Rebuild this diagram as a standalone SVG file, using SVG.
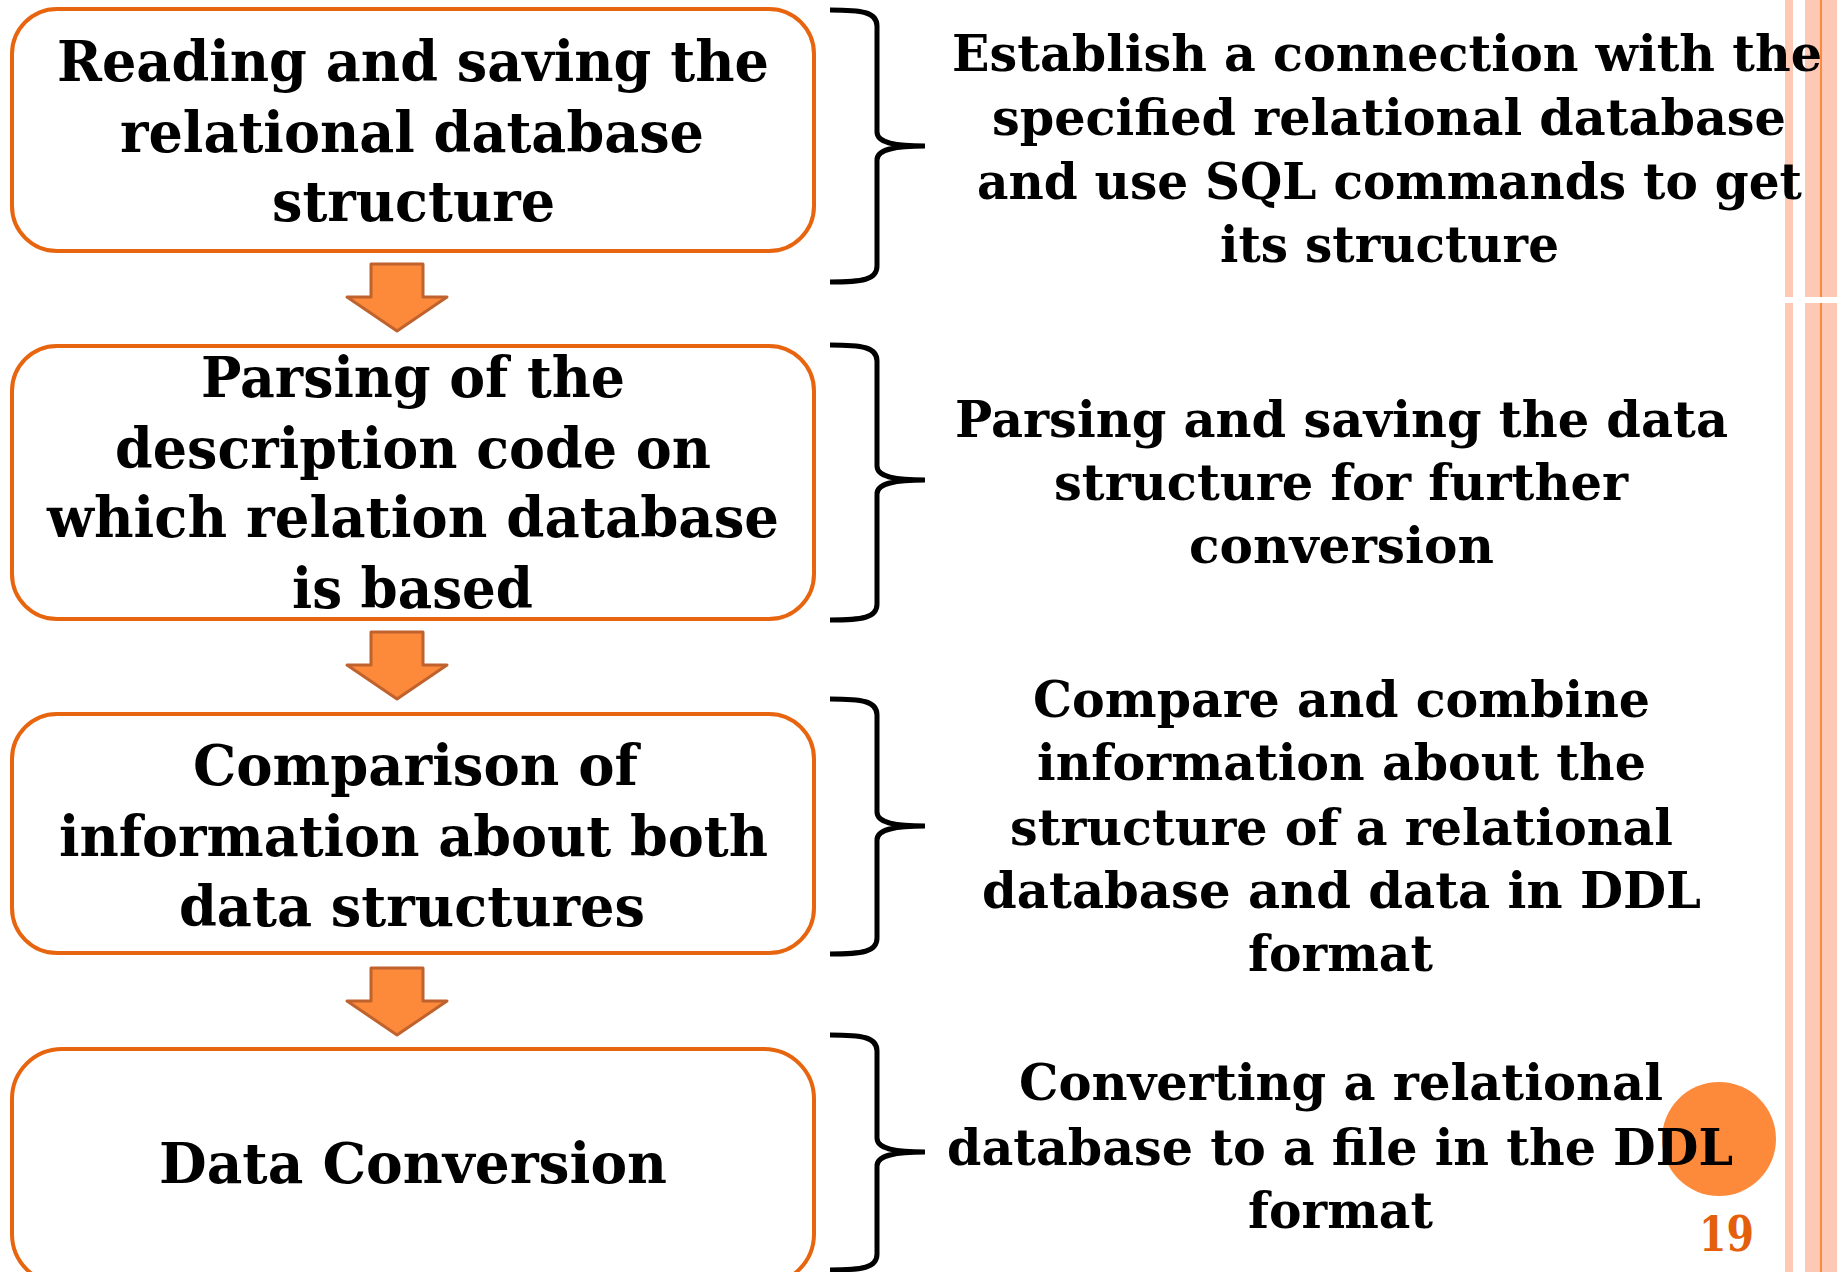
<svg xmlns="http://www.w3.org/2000/svg" width="1837" height="1272" viewBox="0 0 1837 1272">
<style>
.box{fill:#fff;stroke:#e8650f;stroke-width:4}
.arr{fill:#fd8a3a;stroke:#c0622d;stroke-width:3;stroke-linejoin:round}
.brace{fill:none;stroke:#000;stroke-width:5}
.t{font-family:"DejaVu Serif","Liberation Serif",serif;font-weight:bold;font-size:56px;fill:#000}
.r{font-family:"DejaVu Serif","Liberation Serif",serif;font-weight:bold;font-size:51px;fill:#000}
</style>
<rect width="1837" height="1272" fill="#fff"/>
<g id="stripes">
<rect x="1785" y="0" width="8" height="1272" fill="#fdc8b4"/>
<rect x="1805" y="0" width="32" height="1272" fill="#fdc8b4"/>
<rect x="1820" y="0" width="2" height="1272" fill="#fd8a3a"/>
<rect x="1785" y="297" width="52" height="6" fill="#fff"/>
</g>
<g id="connectors">
<path class="arr" d="M371,264 H423 V297 H447 L397,331 L347,297 H371 Z"/>
<path class="arr" d="M371,632 H423 V665 H447 L397,699 L347,665 H371 Z"/>
<path class="arr" d="M371,968 H423 V1001 H447 L397,1035 L347,1001 H371 Z"/>
<path class="brace" d="M830,10 C862,10 877,12 877,26 L877,132 C877,142 892,146 925,146 C892,146 877,150 877,160 L877,266 C877,280 862,282 830,282"/>
<path class="brace" d="M830,345 C862,345 877,347 877,361 L877,466 C877,476 892,480 925,480 C892,480 877,484 877,494 L877,604 C877,618 862,620 830,620"/>
<path class="brace" d="M830,699 C862,699 877,701 877,715 L877,812 C877,822 892,826 925,826 C892,826 877,830 877,840 L877,938 C877,952 862,954 830,954"/>
<path class="brace" d="M830,1035 C862,1035 877,1037 877,1051 L877,1138 C877,1148 892,1152 925,1152 C892,1152 877,1156 877,1166 L877,1254 C877,1268 862,1270 830,1270"/>
</g>
<g id="node1">
<rect class="box" x="12" y="9" width="802" height="242" rx="45"/>
<text class="t" x="57" y="81" textLength="712" lengthAdjust="spacingAndGlyphs">Reading and saving the</text>
<text class="t" x="120" y="152" textLength="584" lengthAdjust="spacingAndGlyphs">relational database</text>
<text class="t" x="272" y="221" textLength="283" lengthAdjust="spacingAndGlyphs">structure</text>
</g>
<g id="node2">
<rect class="box" x="12" y="346" width="802" height="273" rx="45"/>
<text class="t" x="201" y="397" textLength="424" lengthAdjust="spacingAndGlyphs">Parsing of the</text>
<text class="t" x="115" y="468" textLength="596" lengthAdjust="spacingAndGlyphs">description code on</text>
<text class="t" x="47" y="537" textLength="732" lengthAdjust="spacingAndGlyphs">which relation database</text>
<text class="t" x="292" y="608" textLength="241" lengthAdjust="spacingAndGlyphs">is based</text>
</g>
<g id="node3">
<rect class="box" x="12" y="714" width="802" height="239" rx="45"/>
<text class="t" x="193" y="785" textLength="445" lengthAdjust="spacingAndGlyphs">Comparison of</text>
<text class="t" x="59" y="856" textLength="709" lengthAdjust="spacingAndGlyphs">information about both</text>
<text class="t" x="179" y="926" textLength="466" lengthAdjust="spacingAndGlyphs">data structures</text>
</g>
<g id="node4">
<rect class="box" x="12" y="1049" width="802" height="235" rx="50"/>
<text class="t" x="159" y="1183" textLength="508" lengthAdjust="spacingAndGlyphs">Data Conversion</text>
</g>
<g id="page">
<circle cx="1719" cy="1139" r="57" fill="#fd8a3b"/>
<text x="1699" y="1251" font-family="DejaVu Serif, serif" font-weight="bold" font-size="48" fill="#e35f0c" textLength="55" lengthAdjust="spacingAndGlyphs">19</text>
</g>
<g id="desc1">
<text class="r" x="952" y="71" textLength="870" lengthAdjust="spacingAndGlyphs">Establish a connection with the</text>
<text class="r" x="992" y="135" textLength="794" lengthAdjust="spacingAndGlyphs">specified relational database</text>
<text class="r" x="977" y="199" textLength="825" lengthAdjust="spacingAndGlyphs">and use SQL commands to get</text>
<text class="r" x="1220" y="262" textLength="339" lengthAdjust="spacingAndGlyphs">its structure</text>
</g>
<g id="desc2">
<text class="r" x="955" y="437" textLength="773" lengthAdjust="spacingAndGlyphs">Parsing and saving the data</text>
<text class="r" x="1054" y="500" textLength="574" lengthAdjust="spacingAndGlyphs">structure for further</text>
<text class="r" x="1189" y="563" textLength="305" lengthAdjust="spacingAndGlyphs">conversion</text>
</g>
<g id="desc3">
<text class="r" x="1033" y="717" textLength="617" lengthAdjust="spacingAndGlyphs">Compare and combine</text>
<text class="r" x="1037" y="780" textLength="609" lengthAdjust="spacingAndGlyphs">information about the</text>
<text class="r" x="1010" y="845" textLength="663" lengthAdjust="spacingAndGlyphs">structure of a relational</text>
<text class="r" x="982" y="908" textLength="719" lengthAdjust="spacingAndGlyphs">database and data in DDL</text>
<text class="r" x="1248" y="971" textLength="185" lengthAdjust="spacingAndGlyphs">format</text>
</g>
<g id="desc4">
<text class="r" x="1019" y="1100" textLength="644" lengthAdjust="spacingAndGlyphs">Converting a relational</text>
<text class="r" x="947" y="1165" textLength="786" lengthAdjust="spacingAndGlyphs">database to a file in the DDL</text>
<text class="r" x="1248" y="1228" textLength="185" lengthAdjust="spacingAndGlyphs">format</text>
</g>
</svg>
